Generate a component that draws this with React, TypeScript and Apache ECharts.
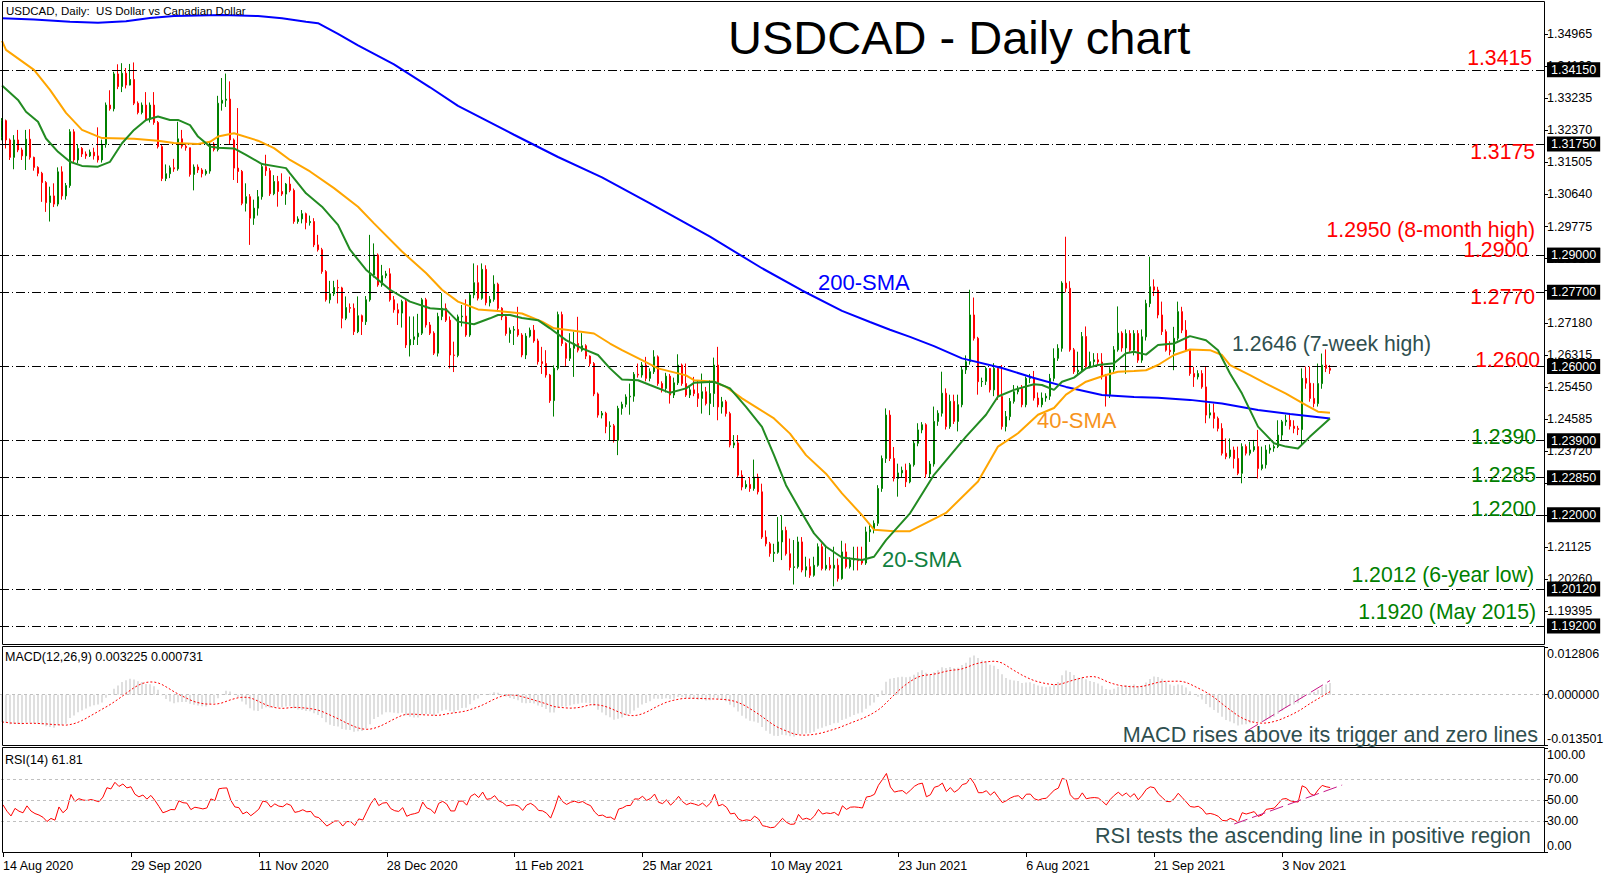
import React, { useEffect, useRef } from "react";
import * as echarts from "echarts";

const FONT = '"Liberation Sans", Arial, Helvetica, sans-serif';

// ---------------- data ----------------
const firstOpen = 1.3218;

// daily closes, 14 Aug 2020 .. 19 Nov 2021 (open of a day = previous close)
const closes = [
  1.3263, 1.3211, 1.3164, 1.3211, 1.3184, 1.3168, 1.3213, 1.3164, 1.3137, 1.3121,
  1.3096, 1.3042, 1.3060, 1.3038, 1.3125, 1.3060, 1.3088, 1.3233, 1.3157, 1.3188,
  1.3173, 1.3168, 1.3178, 1.3168, 1.3157, 1.3199, 1.3305, 1.3295, 1.3389, 1.3355,
  1.3391, 1.3359, 1.3374, 1.3310, 1.3285, 1.3305, 1.3267, 1.3305, 1.3258, 1.3193,
  1.3107, 1.3120, 1.3136, 1.3133, 1.3214, 1.3194, 1.3190, 1.3118, 1.3138, 1.3130,
  1.3120, 1.3127, 1.3200, 1.3185, 1.3310, 1.3318, 1.3321, 1.3211, 1.3135, 1.3126,
  1.3040, 1.3058, 1.3000, 1.3027, 1.3058, 1.3139, 1.3128, 1.3066, 1.3099, 1.3072,
  1.3065, 1.3092, 1.3075, 1.2991, 1.2998, 1.3012, 1.2988, 1.2991, 1.2928, 1.2915,
  1.2856, 1.2780, 1.2796, 1.2813, 1.2812, 1.2730, 1.2759, 1.2757, 1.2694, 1.2737,
  1.2721, 1.2780, 1.2847, 1.2901, 1.2820, 1.2845, 1.2850, 1.2780, 1.2753, 1.2744,
  1.2775, 1.2658, 1.2673, 1.2680, 1.2690, 1.2780, 1.2712, 1.2690, 1.2636, 1.2735,
  1.2757, 1.2725, 1.2631, 1.2630, 1.2734, 1.2736, 1.2685, 1.2793, 1.2826, 1.2784,
  1.2862, 1.2772, 1.2781, 1.2822, 1.2757, 1.2734, 1.2689, 1.2698, 1.2700, 1.2685,
  1.2631, 1.2682, 1.2698, 1.2669, 1.2613, 1.2608, 1.2577, 1.2508, 1.2595, 1.2740,
  1.2662, 1.2622, 1.2649, 1.2662, 1.2644, 1.2656, 1.2628, 1.2608, 1.2526, 1.2469,
  1.2474, 1.2438, 1.2440, 1.2401, 1.2487, 1.2498, 1.2518, 1.2520, 1.2579, 1.2577,
  1.2604, 1.2568, 1.2586, 1.2626, 1.2554, 1.2541, 1.2574, 1.2523, 1.2556, 1.2604,
  1.2554, 1.2523, 1.2537, 1.2527, 1.2514, 1.2532, 1.2500, 1.2527, 1.2604, 1.2491,
  1.2505, 1.2473, 1.2388, 1.2394, 1.2307, 1.2275, 1.2282, 1.2271, 1.2302, 1.2262,
  1.2140, 1.2122, 1.2096, 1.2099, 1.2127, 1.2158, 1.2095, 1.2058, 1.2060, 1.2127,
  1.2051, 1.2060, 1.2037, 1.2064, 1.2114, 1.2055, 1.2064, 1.2056, 1.2064, 1.2028,
  1.2100, 1.2060, 1.2078, 1.2080, 1.2076, 1.2070, 1.2154, 1.2160, 1.2177, 1.2271,
  1.2352, 1.2469, 1.2352, 1.2298, 1.2313, 1.2320, 1.2289, 1.2335, 1.2393, 1.2429,
  1.2443, 1.2310, 1.2337, 1.2452, 1.2474, 1.2528, 1.2438, 1.2506, 1.2452, 1.2497,
  1.2591, 1.2613, 1.2739, 1.2676, 1.2559, 1.2560, 1.2595, 1.2537, 1.2595, 1.2519,
  1.2438, 1.2465, 1.2506, 1.2532, 1.2541, 1.2497, 1.2568, 1.2570, 1.2515, 1.2497,
  1.2515, 1.2520, 1.2568, 1.2622, 1.2649, 1.2825, 1.2811, 1.2645, 1.2586, 1.2590,
  1.2681, 1.2600, 1.2613, 1.2618, 1.2612, 1.2573, 1.2524, 1.2591, 1.2645, 1.2690,
  1.2650, 1.2689, 1.2644, 1.2689, 1.2617, 1.2680, 1.2770, 1.2815, 1.2806, 1.2739,
  1.2694, 1.2644, 1.2640, 1.2676, 1.2748, 1.2698, 1.2644, 1.2581, 1.2572, 1.2581,
  1.2545, 1.2469, 1.2475, 1.2460, 1.2433, 1.2366, 1.2357, 1.2375, 1.2352, 1.2312,
  1.2384, 1.2366, 1.2375, 1.2384, 1.2325, 1.2335, 1.2375, 1.2380, 1.2384, 1.2415,
  1.2451, 1.2455, 1.2439, 1.2433, 1.2430, 1.2568, 1.2555, 1.2514, 1.2500, 1.2554,
  1.2604, 1.2595, 1.2590,
];

const highs = [
  1.3270, 1.3266, 1.3215, 1.3224, 1.3238, 1.3190, 1.3238, 1.3240, 1.3166, 1.3140,
  1.3125, 1.3100, 1.3085, 1.3094, 1.3137, 1.3140, 1.3095, 1.3240, 1.3240, 1.3200,
  1.3192, 1.3180, 1.3185, 1.3190, 1.3245, 1.3212, 1.3312, 1.3345, 1.3395, 1.3415,
  1.3418, 1.3405, 1.3416, 1.3420, 1.3315, 1.3312, 1.3340, 1.3312, 1.3340, 1.3262,
  1.3198, 1.3145, 1.3142, 1.3160, 1.3260, 1.3238, 1.3200, 1.3190, 1.3145, 1.3145,
  1.3135, 1.3132, 1.3206, 1.3205, 1.3330, 1.3378, 1.3390, 1.3369, 1.3215, 1.3297,
  1.3130, 1.3094, 1.3065, 1.3050, 1.3076, 1.3148, 1.3171, 1.3135, 1.3116, 1.3114,
  1.3121, 1.3095, 1.3112, 1.3080, 1.3005, 1.3022, 1.3015, 1.3007, 1.3000, 1.2955,
  1.2920, 1.2860, 1.2831, 1.2831, 1.2834, 1.2815, 1.2789, 1.2770, 1.2770, 1.2789,
  1.2740, 1.2790, 1.2955, 1.2932, 1.2905, 1.2874, 1.2858, 1.2865, 1.2790, 1.2770,
  1.2780, 1.2780, 1.2735, 1.2735, 1.2742, 1.2785, 1.2785, 1.2720, 1.2695, 1.2745,
  1.2798, 1.2770, 1.2735, 1.2667, 1.2740, 1.2766, 1.2781, 1.2800, 1.2878, 1.2873,
  1.2878, 1.2873, 1.2790, 1.2846, 1.2826, 1.2760, 1.2740, 1.2705, 1.2709, 1.2761,
  1.2690, 1.2690, 1.2705, 1.2712, 1.2675, 1.2653, 1.2644, 1.2580, 1.2603, 1.2748,
  1.2748, 1.2665, 1.2690, 1.2694, 1.2734, 1.2690, 1.2660, 1.2630, 1.2612, 1.2530,
  1.2480, 1.2478, 1.2452, 1.2445, 1.2494, 1.2505, 1.2525, 1.2554, 1.2585, 1.2608,
  1.2612, 1.2626, 1.2595, 1.2644, 1.2630, 1.2560, 1.2583, 1.2580, 1.2570, 1.2633,
  1.2608, 1.2608, 1.2545, 1.2572, 1.2563, 1.2581, 1.2545, 1.2563, 1.2624, 1.2653,
  1.2518, 1.2510, 1.2478, 1.2415, 1.2415, 1.2320, 1.2293, 1.2302, 1.2349, 1.2311,
  1.2284, 1.2158, 1.2127, 1.2122, 1.2194, 1.2199, 1.2168, 1.2136, 1.2132, 1.2141,
  1.2140, 1.2087, 1.2082, 1.2087, 1.2123, 1.2123, 1.2118, 1.2086, 1.2114, 1.2082,
  1.2130, 1.2123, 1.2085, 1.2114, 1.2114, 1.2114, 1.2168, 1.2175, 1.2185, 1.2280,
  1.2360, 1.2487, 1.2482, 1.2383, 1.2338, 1.2330, 1.2338, 1.2340, 1.2400, 1.2447,
  1.2450, 1.2447, 1.2345, 1.2492, 1.2482, 1.2586, 1.2541, 1.2524, 1.2524, 1.2524,
  1.2600, 1.2630, 1.2807, 1.2786, 1.2680, 1.2570, 1.2600, 1.2595, 1.2609, 1.2598,
  1.2604, 1.2480, 1.2515, 1.2550, 1.2548, 1.2550, 1.2573, 1.2580, 1.2588, 1.2530,
  1.2530, 1.2528, 1.2580, 1.2649, 1.2660, 1.2830, 1.2950, 1.2830, 1.2650, 1.2640,
  1.2693, 1.2708, 1.2640, 1.2636, 1.2636, 1.2636, 1.2580, 1.2598, 1.2655, 1.2762,
  1.2695, 1.2700, 1.2698, 1.2698, 1.2698, 1.2700, 1.2780, 1.2896, 1.2835, 1.2815,
  1.2775, 1.2700, 1.2668, 1.2707, 1.2775, 1.2761, 1.2725, 1.2646, 1.2599, 1.2590,
  1.2590, 1.2599, 1.2500, 1.2500, 1.2465, 1.2447, 1.2406, 1.2406, 1.2384, 1.2384,
  1.2393, 1.2390, 1.2397, 1.2402, 1.2429, 1.2384, 1.2388, 1.2390, 1.2390, 1.2455,
  1.2456, 1.2470, 1.2470, 1.2455, 1.2440, 1.2595, 1.2600, 1.2600, 1.2555, 1.2608,
  1.2635, 1.2646, 1.2604,
];

const lows = [
  1.3210, 1.3188, 1.3157, 1.3132, 1.3178, 1.3157, 1.3130, 1.3158, 1.3128, 1.3113,
  1.3044, 1.3017, 1.2991, 1.3030, 1.3032, 1.3050, 1.3050, 1.3082, 1.3150, 1.3148,
  1.3165, 1.3160, 1.3165, 1.3158, 1.3150, 1.3150, 1.3190, 1.3290, 1.3288, 1.3348,
  1.3340, 1.3350, 1.3358, 1.3305, 1.3280, 1.3280, 1.3262, 1.3258, 1.3252, 1.3188,
  1.3100, 1.3100, 1.3108, 1.3125, 1.3128, 1.3188, 1.3182, 1.3112, 1.3075, 1.3122,
  1.3110, 1.3115, 1.3120, 1.3180, 1.3180, 1.3290, 1.3300, 1.3200, 1.3103, 1.3095,
  1.3035, 1.3018, 1.2928, 1.2982, 1.3007, 1.3050, 1.3114, 1.3060, 1.3062, 1.3031,
  1.3060, 1.3036, 1.3070, 1.2985, 1.2985, 1.2986, 1.2970, 1.2980, 1.2922, 1.2910,
  1.2850, 1.2775, 1.2770, 1.2790, 1.2770, 1.2703, 1.2725, 1.2745, 1.2685, 1.2690,
  1.2685, 1.2712, 1.2775, 1.2840, 1.2815, 1.2815, 1.2838, 1.2775, 1.2745, 1.2712,
  1.2705, 1.2650, 1.2627, 1.2658, 1.2658, 1.2685, 1.2705, 1.2685, 1.2631, 1.2627,
  1.2725, 1.2720, 1.2595, 1.2585, 1.2625, 1.2708, 1.2680, 1.2680, 1.2784, 1.2778,
  1.2780, 1.2765, 1.2762, 1.2775, 1.2750, 1.2725, 1.2683, 1.2664, 1.2658, 1.2680,
  1.2625, 1.2620, 1.2678, 1.2664, 1.2605, 1.2580, 1.2570, 1.2502, 1.2465, 1.2590,
  1.2655, 1.2600, 1.2615, 1.2572, 1.2638, 1.2640, 1.2620, 1.2600, 1.2520, 1.2462,
  1.2460, 1.2420, 1.2400, 1.2395, 1.2361, 1.2470, 1.2490, 1.2470, 1.2505, 1.2570,
  1.2570, 1.2560, 1.2560, 1.2580, 1.2548, 1.2530, 1.2530, 1.2500, 1.2515, 1.2550,
  1.2548, 1.2518, 1.2515, 1.2520, 1.2491, 1.2473, 1.2495, 1.2469, 1.2491, 1.2455,
  1.2473, 1.2465, 1.2382, 1.2380, 1.2300, 1.2266, 1.2270, 1.2262, 1.2265, 1.2255,
  1.2135, 1.2115, 1.2087, 1.2073, 1.2095, 1.2078, 1.2090, 1.2050, 1.2012, 1.2055,
  1.2045, 1.2033, 1.2030, 1.2033, 1.2060, 1.2050, 1.2050, 1.2050, 1.2007, 1.2020,
  1.2025, 1.2055, 1.2055, 1.2050, 1.2050, 1.2065, 1.2065, 1.2127, 1.2150, 1.2170,
  1.2262, 1.2340, 1.2345, 1.2290, 1.2249, 1.2300, 1.2275, 1.2285, 1.2330, 1.2385,
  1.2420, 1.2300, 1.2300, 1.2330, 1.2440, 1.2465, 1.2430, 1.2432, 1.2445, 1.2425,
  1.2490, 1.2580, 1.2605, 1.2670, 1.2524, 1.2545, 1.2550, 1.2530, 1.2520, 1.2510,
  1.2430, 1.2425, 1.2455, 1.2500, 1.2525, 1.2490, 1.2490, 1.2555, 1.2508, 1.2490,
  1.2490, 1.2505, 1.2510, 1.2560, 1.2615, 1.2640, 1.2800, 1.2640, 1.2580, 1.2575,
  1.2585, 1.2595, 1.2595, 1.2600, 1.2605, 1.2565, 1.2492, 1.2515, 1.2585, 1.2640,
  1.2640, 1.2580, 1.2638, 1.2630, 1.2610, 1.2610, 1.2670, 1.2760, 1.2790, 1.2730,
  1.2685, 1.2640, 1.2630, 1.2590, 1.2670, 1.2690, 1.2640, 1.2575, 1.2545, 1.2565,
  1.2540, 1.2447, 1.2460, 1.2433, 1.2425, 1.2360, 1.2350, 1.2352, 1.2325, 1.2307,
  1.2285, 1.2360, 1.2360, 1.2370, 1.2298, 1.2320, 1.2325, 1.2365, 1.2370, 1.2380,
  1.2400, 1.2440, 1.2430, 1.2420, 1.2415, 1.2388, 1.2540, 1.2505, 1.2490, 1.2492,
  1.2540, 1.2585, 1.2580,
];

const dateTicks = [
  "14 Aug 2020", "29 Sep 2020", "11 Nov 2020", "28 Dec 2020", "11 Feb 2021", "25 Mar 2021",
  "10 May 2021", "23 Jun 2021", "6 Aug 2021", "21 Sep 2021", "3 Nov 2021",
];
const barsPerDateTick = 32;
const totalSlots = 386; // bars that fit the chart width (incl. empty right margin)

// moving averages: [bar index, value]
const sma200 = [
  [0, 1.3539], [8, 1.3536], [17, 1.3530], [24, 1.3527], [31, 1.3531], [37, 1.3540], [43, 1.3545],
  [55, 1.3548], [64, 1.3545], [70, 1.3539], [76, 1.3530], [79, 1.3526], [84, 1.3497], [89, 1.3466],
  [98, 1.3415], [107, 1.3353], [114, 1.3303], [128, 1.3225], [139, 1.3165], [150, 1.3110],
  [162, 1.3040], [177, 1.2950], [190, 1.2865], [200, 1.2805], [210, 1.2750], [217, 1.2720],
  [222, 1.2699], [227, 1.2680], [233, 1.2655], [240, 1.2622], [250, 1.2596], [258, 1.2569],
  [266, 1.2545], [275, 1.2523], [283, 1.2518], [289, 1.2516], [297, 1.2510], [305, 1.2500],
  [314, 1.2483], [322, 1.2472], [332, 1.2460],
];
const sma40 = [
  [0, 1.3478], [1, 1.3454], [8, 1.3400], [12, 1.3346], [16, 1.3284], [20, 1.3238], [25, 1.3216],
  [33, 1.3214], [39, 1.3209], [43, 1.3203], [49, 1.3200], [52, 1.3206], [54, 1.3220], [58, 1.3229],
  [64, 1.3209], [68, 1.3189], [72, 1.3157], [77, 1.3126], [83, 1.3081], [89, 1.3031], [93, 1.2986],
  [100, 1.2910], [106, 1.2852], [110, 1.2807], [114, 1.2775], [119, 1.2754], [124, 1.2750],
  [130, 1.2743], [135, 1.2721], [138, 1.2703], [142, 1.2698], [148, 1.2689], [152, 1.2662],
  [155, 1.2644], [160, 1.2617], [164, 1.2595], [171, 1.2576], [173, 1.2563], [178, 1.2559],
  [181, 1.2545], [185, 1.2514], [189, 1.2487], [193, 1.2460], [197, 1.2419], [201, 1.2361],
  [206, 1.2311], [210, 1.2258], [215, 1.2199], [218, 1.2160], [223, 1.2156], [227, 1.2156],
  [236, 1.2205], [244, 1.2290], [249, 1.2384], [254, 1.2420], [259, 1.2470], [263, 1.2488],
  [266, 1.2524], [271, 1.2559], [276, 1.2577], [279, 1.2586], [283, 1.2588], [286, 1.2590],
  [289, 1.2604], [293, 1.2631], [297, 1.2646], [302, 1.2644], [305, 1.2631], [307, 1.2604],
  [312, 1.2577], [316, 1.2554], [321, 1.2527], [326, 1.2496], [329, 1.2478], [332, 1.2475],
];
const sma20 = [
  [0, 1.3358], [4, 1.3319], [6, 1.3287], [9, 1.3260], [11, 1.3215], [14, 1.3179], [17, 1.3152],
  [20, 1.3141], [24, 1.3139], [27, 1.3152], [30, 1.3202], [33, 1.3238], [36, 1.3265], [39, 1.3274],
  [42, 1.3265], [44, 1.3265], [47, 1.3251], [49, 1.3220], [52, 1.3193], [54, 1.3190], [58, 1.3188],
  [61, 1.3171], [65, 1.3146], [71, 1.3135], [72, 1.3121], [76, 1.3067], [80, 1.3031], [84, 1.2982],
  [87, 1.2915], [91, 1.2861], [94, 1.2834], [97, 1.2807], [102, 1.2775], [107, 1.2757],
  [111, 1.2754], [114, 1.2721], [118, 1.2714], [122, 1.2730], [124, 1.2739], [127, 1.2739],
  [130, 1.2731], [134, 1.2725], [137, 1.2703], [141, 1.2671], [145, 1.2649], [149, 1.2631],
  [152, 1.2595], [155, 1.2565], [159, 1.2563], [162, 1.2550], [167, 1.2529], [171, 1.2541],
  [173, 1.2556], [178, 1.2559], [182, 1.2541], [186, 1.2491], [190, 1.2437], [193, 1.2361],
  [196, 1.2280], [200, 1.2204], [203, 1.2150], [206, 1.2114], [210, 1.2085], [215, 1.2078],
  [218, 1.2087], [221, 1.2132], [227, 1.2204], [233, 1.2308], [241, 1.2411], [246, 1.2470],
  [249, 1.2519], [253, 1.2537], [258, 1.2552], [260, 1.2550], [263, 1.2537], [265, 1.2559],
  [268, 1.2570], [271, 1.2595], [274, 1.2604], [278, 1.2609], [281, 1.2636], [283, 1.2640],
  [286, 1.2632], [289, 1.2658], [293, 1.2662], [297, 1.2682], [301, 1.2671], [304, 1.2644],
  [307, 1.2581], [310, 1.2527], [314, 1.2438], [318, 1.2393], [321, 1.2384], [324, 1.2379],
  [327, 1.2411], [332, 1.2460],
];

const levelPrices = [1.3415, 1.3175, 1.295, 1.29, 1.277, 1.26, 1.239, 1.2285, 1.22, 1.2012, 1.192];
const levelNames = [
  "1.3415", "1.3175", "1.2950 (8-month high)", "1.2900", "1.2770", "1.2600",
  "1.2390", "1.2285", "1.2200", "1.2012 (6-year low)", "1.1920 (May 2015)",
];
const levelIsResistance = [true, true, true, true, true, true, false, false, false, false, false];

const macdSeed = [1.331, 1.3385]; // EMA12, EMA26 before the first bar
const rsiSeed = [0.0009, 0.0015]; // average gain, average loss before the first bar
const macdAxisValues = [-0.013501, 0, 0.012806];
const rsiAxisValues = [0, 30, 50, 70, 100];
const rsiLevels = [70, 50, 30];
const macdTrendLine = [[311, -0.0099], [332, 0.0038]];
const rsiTrendLine = [[308, 26.9], [335, 64.4]];
const macdReadout = ["0.003225", "0.000731"];
const rsiReadout = "61.81";

// ---------------- derived ----------------
const opens = closes.map((c, i) => (i === 0 ? firstOpen : closes[i - 1]));
const candleData = closes.map((c, i) => {
  const o = opens[i];
  return [o, c, Math.min(lows[i], o, c), Math.max(highs[i], o, c)];
});

const macdMain: number[] = [];
{
  let e12 = macdSeed[0];
  let e26 = macdSeed[1];
  closes.forEach((c) => {
    e12 += (2 / 13) * (c - e12);
    e26 += (2 / 27) * (c - e26);
    macdMain.push(e12 - e26);
  });
}
const macdSignal = macdMain.map((_, i) => {
  const w = macdMain.slice(Math.max(0, i - 8), i + 1);
  return w.reduce((a, b) => a + b, 0) / w.length;
});
const rsi: number[] = [];
{
  let g = rsiSeed[0];
  let l = rsiSeed[1];
  closes.forEach((c, i) => {
    const ch = c - opens[i];
    g = (g * 13 + Math.max(ch, 0)) / 14;
    l = (l * 13 + Math.max(-ch, 0)) / 14;
    rsi.push(l === 0 ? 100 : 100 - 100 / (1 + g / l));
  });
}

const categories = Array.from({ length: totalSlots }, (_, i) => {
  const k = i / barsPerDateTick;
  return Number.isInteger(k) && k < dateTicks.length ? dateTicks[k] : String(i);
});
const isDateTick = (i: number) => i % barsPerDateTick === 0 && i / barsPerDateTick < dateTicks.length;
// price-scale labels fully hidden behind a level box are not drawn
const hiddenByBox = (v: number) => levelPrices.some((p) => Math.abs(p - v) < 0.0002);

// ---------------- layout ----------------
const levelLabelLayout = [
  { right: 1532, dy: -6.5 },
  { right: 1535, dy: -1.5 },
  { right: 1535, dy: -7 },
  { right: 1528, dy: -6 },
  { right: 1535, dy: -6.5 },
  { right: 1540, dy: -7 },
  { right: 1536, dy: -7.5 },
  { right: 1536, dy: -9 },
  { right: 1536, dy: -6.5 },
  { right: 1534, dy: -10 },
  { right: 1536, dy: -7.5 },
];
const NOTE_SIZE = 21.2;
const PANE_NOTE_SIZE = 21.6;

const axisFont = { color: "#000", fontSize: 12.5, fontFamily: FONT };
const greyDash = { color: "#C0C0C0", width: 1, type: [3, 3] as number[] };
const trendStyle = { color: "#C71585", width: 1, type: [14, 5] as number[] };

function txt(text: string, x: number, y: number, size: number, fill: string, align = "left") {
  return {
    type: "text",
    x,
    y,
    silent: true,
    z: 100,
    style: {
      text,
      fill,
      fontSize: size,
      fontFamily: FONT,
      textAlign: align,
      align,
      textVerticalAlign: "middle",
      verticalAlign: "middle",
    },
  };
}

function frame(y0: number, y1: number) {
  return {
    type: "rect",
    silent: true,
    z: 90,
    shape: { x: 2.5, y: y0, width: 1542, height: y1 - y0 },
    style: { fill: "none", stroke: "#000", lineWidth: 1 },
  };
}

function buildOption(): any {
  const xAxes = [0, 1, 2].map((g) => ({
    type: "category",
    gridIndex: g,
    data: categories,
    boundaryGap: true,
    axisLine: { show: false },
    axisTick: {
      show: g === 2,
      alignWithLabel: true,
      interval: (i: number) => isDateTick(i),
      length: 5,
      lineStyle: { color: "#000" },
    },
    axisLabel: {
      show: g === 2,
      interval: (i: number) => isDateTick(i),
      align: "left",
      margin: 7,
      ...axisFont,
    },
    splitLine: { show: false },
  }));

  return {
    animation: false,
    backgroundColor: "#fff",
    grid: [
      { left: 0, top: 2, width: 1544, height: 641.5 },
      { left: 0, top: 647, width: 1544, height: 98 },
      { left: 0, top: 748, width: 1544, height: 104 },
    ],
    xAxis: xAxes,
    yAxis: [
      {
        type: "value",
        gridIndex: 0,
        position: "right",
        min: 1.1853,
        max: 1.3583,
        interval: 0.00865,
        axisLine: { show: false },
        axisTick: { show: true, length: 4, lineStyle: { color: "#000" } },
        axisLabel: {
          ...axisFont,
          margin: 3,
          showMinLabel: false,
          showMaxLabel: false,
          formatter: (v: number) => (hiddenByBox(v) ? "" : v.toFixed(5)),
        },
        splitLine: { show: false },
      },
      {
        type: "value",
        gridIndex: 1,
        position: "right",
        min: -0.013501,
        max: 0.012806,
        axisLine: { show: false },
        axisTick: { show: true, length: 4, customValues: macdAxisValues, lineStyle: { color: "#000" } },
        axisLabel: {
          ...axisFont,
          margin: 3,
          customValues: macdAxisValues,
          verticalAlignMinLabel: "bottom",
          verticalAlignMaxLabel: "top",
          formatter: (v: number) => v.toFixed(6),
        },
        splitLine: { show: false },
      },
      {
        type: "value",
        gridIndex: 2,
        position: "right",
        min: 0,
        max: 100,
        axisLine: { show: false },
        axisTick: { show: true, length: 4, customValues: rsiAxisValues, lineStyle: { color: "#000" } },
        axisLabel: {
          ...axisFont,
          margin: 3,
          customValues: rsiAxisValues,
          verticalAlignMinLabel: "bottom",
          verticalAlignMaxLabel: "top",
          formatter: (v: number) => v.toFixed(2),
        },
        splitLine: { show: false },
      },
    ],
    series: [
      {
        type: "candlestick",
        xAxisIndex: 0,
        yAxisIndex: 0,
        data: candleData,
        barWidth: 2,
        itemStyle: {
          color: "#008000",
          color0: "#FF0000",
          borderColor: "#008000",
          borderColor0: "#FF0000",
          borderWidth: 1,
        },
        markLine: {
          silent: true,
          symbol: ["none", "none"],
          animation: false,
          data: levelPrices.map((p) => ({
            yAxis: p,
            lineStyle: { color: "#000", width: 1, type: [9, 3, 1, 3] },
            label: {
              show: true,
              position: "end",
              distance: 3,
              formatter: () => p.toFixed(5),
              color: "#fff",
              backgroundColor: "#000",
              padding: [1, 4, 1, 4],
              fontSize: 12.5,
              fontFamily: FONT,
            },
          })),
        },
      },
      {
        type: "line",
        xAxisIndex: 0,
        yAxisIndex: 0,
        data: sma200,
        symbol: "none",
        lineStyle: { color: "#0000FF", width: 2 },
        z: 5,
      },
      {
        type: "line",
        xAxisIndex: 0,
        yAxisIndex: 0,
        data: sma40,
        symbol: "none",
        lineStyle: { color: "#FFA500", width: 2 },
        z: 5,
      },
      {
        type: "line",
        xAxisIndex: 0,
        yAxisIndex: 0,
        data: sma20,
        symbol: "none",
        lineStyle: { color: "#228B22", width: 2 },
        z: 5,
      },
      {
        type: "bar",
        xAxisIndex: 1,
        yAxisIndex: 1,
        data: macdMain,
        barWidth: 1,
        itemStyle: { color: "#C0C0C0" },
        markLine: {
          silent: true,
          symbol: ["none", "none"],
          label: { show: false },
          lineStyle: greyDash,
          data: [{ yAxis: 0 }],
        },
      },
      {
        type: "line",
        xAxisIndex: 1,
        yAxisIndex: 1,
        data: macdSignal,
        symbol: "none",
        lineStyle: { color: "#FF0000", width: 1, type: [2, 2] },
        z: 4,
      },
      {
        type: "line",
        xAxisIndex: 1,
        yAxisIndex: 1,
        data: macdTrendLine,
        symbol: "none",
        lineStyle: trendStyle,
        z: 6,
      },
      {
        type: "line",
        xAxisIndex: 2,
        yAxisIndex: 2,
        data: rsi,
        symbol: "none",
        lineStyle: { color: "#FF0000", width: 1 },
        markLine: {
          silent: true,
          symbol: ["none", "none"],
          label: { show: false },
          lineStyle: greyDash,
          data: rsiLevels.map((v) => ({ yAxis: v })),
        },
      },
      {
        type: "line",
        xAxisIndex: 2,
        yAxisIndex: 2,
        data: rsiTrendLine,
        symbol: "none",
        lineStyle: trendStyle,
        z: 6,
      },
    ],
  };
}

export default function App() {
  const ref = useRef<HTMLDivElement>(null);
  useEffect(() => {
    if (!ref.current) return;
    const chart = echarts.init(ref.current, null, { renderer: "svg" });
    chart.setOption(buildOption());

    const levelTexts = levelPrices.map((p, k) => {
      const y = chart.convertToPixel({ yAxisIndex: 0 }, p) as number;
      const lay = levelLabelLayout[k];
      return txt(
        levelNames[k],
        lay.right,
        y + lay.dy,
        NOTE_SIZE,
        levelIsResistance[k] ? "#FF0000" : "#008000",
        "right"
      );
    });

    const statics = [
      frame(1.5, 644.5),
      frame(646.5, 745.5),
      frame(747.5, 852.5),
      txt("USDCAD, Daily:  US Dollar vs Canadian Dollar", 6, 10.5, 11.5, "#000"),
      txt("USDCAD - Daily chart", 728, 37, 47, "#000"),
      txt("200-SMA", 818, 282.5, 22, "#0000FF"),
      txt("40-SMA", 1037, 420.5, 22, "#F7941D"),
      txt("20-SMA", 882, 559, 22, "#108040"),
      txt("1.2646 (7-week high)", 1232, 343, NOTE_SIZE, "#2F4F4F"),
      txt(`MACD(12,26,9) ${macdReadout[0]} ${macdReadout[1]}`, 5, 657, 12.5, "#000"),
      txt("MACD rises above its trigger and zero lines", 1122.7, 734, PANE_NOTE_SIZE, "#2F4F4F"),
      txt(`RSI(14) ${rsiReadout}`, 5, 759.5, 12.5, "#000"),
      txt("RSI tests the ascending line in positive region", 1095, 835, PANE_NOTE_SIZE, "#2F4F4F"),
    ];

    chart.setOption({ graphic: [...statics, ...levelTexts] });
    return () => chart.dispose();
  }, []);
  return (
    <div
      ref={ref}
      style={{ position: "fixed", left: 0, top: 0, width: 1614, height: 877, background: "#fff" }}
    />
  );
}
